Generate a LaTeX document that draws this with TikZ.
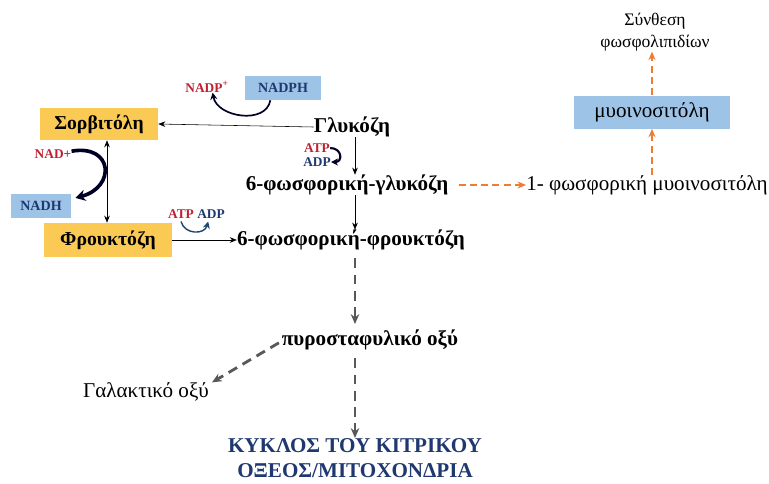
\documentclass[tikz,border=0pt]{standalone}
\usepackage{fontspec}
\setmainfont{Liberation Serif}
\usepackage{tikz}
\usetikzlibrary{arrows.meta, positioning, calc}
\usepackage{xcolor}
\definecolor{sugaryellow}{RGB}{250,202,84}
\definecolor{cofactorblue}{RGB}{157,195,230}
\definecolor{accentred}{RGB}{192,32,48}
\definecolor{accentnavy}{RGB}{31,56,112}
\definecolor{dashorange}{RGB}{237,125,49}
\definecolor{dashgrey}{RGB}{88,88,88}
\tikzset{
  basebox/.style={rectangle, inner sep=0pt, align=center},
  sugarbox/.style={basebox, fill=sugaryellow, font=\fontsize{14}{16}\selectfont\bfseries},
  cofactorbox/.style={basebox, fill=cofactorblue, text=accentnavy, font=\fontsize{10}{12}\selectfont\bfseries},
  myobox/.style={basebox, fill=cofactorblue, font=\fontsize{15}{17}\selectfont},
  metab/.style={basebox, font=\fontsize{15}{17}\selectfont\bfseries},
  plainmetab/.style={basebox, font=\fontsize{15}{17}\selectfont},
  redlabel/.style={basebox, text=accentred, font=\fontsize{9.5}{11}\selectfont\bfseries},
  navylabel/.style={basebox, text=accentnavy, font=\fontsize{9.5}{11}\selectfont\bfseries},
  arrow/.style={-{Stealth[length=5pt, width=4pt]}, thin, color=black},
  dblarrow/.style={{Stealth[length=5pt, width=4pt]}-{Stealth[length=5pt, width=4pt]}, thin, color=black},
  greyarrow/.style={-{Stealth[length=7pt, width=6pt]}, line width=2pt, dash pattern=on 7pt off 4.5pt, color=dashgrey},
  orangearrow/.style={-{Stealth[length=6pt, width=5pt]}, line width=1.6pt, dash pattern=on 5pt off 3pt, color=dashorange},
  cyclearrow/.style={-{Stealth[length=5pt, width=5pt]}, line width=1.4pt, color=black!85!blue}
}
\begin{document}
\begin{tikzpicture}[x=0.025cm, y=-0.025cm]
  \useasboundingbox (0,0) rectangle (769,483);
  \coordinate (axis) at (355,0);
  \coordinate (polyolaxis) at (107,0);

  \node[plainmetab, font=\fontsize{12.5}{15}\selectfont] (synth) at (655,32) {Σύνθεση\\[1pt]φωσφολιπιδίων};
  \node[myobox, minimum width=3.875cm, minimum height=0.825cm] (myo) at (652,112) {μυοινοσιτόλη};
  \node[plainmetab] (mip) at (647,185) {1- φωσφορική μυοινοσιτόλη};

  \node[metab] (glu) at (352,127) {Γλυκόζη};
  \node[metab] (g6p) at (347,185) {6-φωσφορική-γλυκόζη};
  \node[metab] (f6p) at (351,240) {6-φωσφορική-φρουκτόζη};
  \node[metab] (pyr) at (370,340) {πυροσταφυλικό οξύ};
  \node[plainmetab] (lact) at (146,392) {Γαλακτικό οξύ};
  \node[metab, text=accentnavy] (krebs) at (355,458) {ΚΥΚΛΟΣ ΤΟΥ ΚΙΤΡΙΚΟΥ\\[1pt]ΟΞΕΟΣ/ΜΙΤΟΧΟΝΔΡΙΑ};

  \node[sugarbox, minimum width=2.95cm, minimum height=0.8cm] (sorb) at (99,124) {Σορβιτόλη};
  \node[sugarbox, minimum width=3.175cm, minimum height=0.85cm] (fruc) at (108,240) {Φρουκτόζη};

  \node[cofactorbox, minimum width=1.875cm, minimum height=0.6cm] (nadph) at (283,88) {NADPH};
  \node[redlabel] (nadp) at (207,87) {NADP\textsuperscript{+}};
  \node[cofactorbox, minimum width=1.5cm, minimum height=0.6cm] (nadh) at (41,206) {NADH};
  \node[redlabel] (nad) at (53,154) {NAD+};
  \node[redlabel] (atpglu) at (317,148) {ATP};
  \node[navylabel] (adpglu) at (317,162) {ADP};
  \node[redlabel] (atpfru) at (181,214) {ATP};
  \node[navylabel] (adpfru) at (211,214) {ADP};

  \draw[arrow] (glu.west) -- (sorb.east);
  \draw[arrow] (glu.south -| axis) -- (g6p.north -| axis);
  \draw[arrow] (g6p.south -| axis) -- (f6p.north -| axis);
  \draw[arrow] (fruc.east) -- (f6p.west);
  \draw[dblarrow] (sorb.south -| polyolaxis) -- (fruc.north -| polyolaxis);

  \draw[orangearrow] (g6p.east) ++(10,0) -- (mip.west);
  \draw[orangearrow] (mip.north -| myo) -- (myo.south);
  \draw[orangearrow] (myo.north) -- (synth.south -| myo);

  \draw[greyarrow] (f6p.south -| axis) ++(0,8) -- ([yshift=4pt]pyr.north -| axis);
  \draw[greyarrow] (pyr.south -| axis) ++(0,8) -- (krebs.north -| axis);
  \draw[greyarrow] ([xshift=-2pt, yshift=-2pt]pyr.west) -- ([xshift=2pt]lact.north east);

  \draw[cyclearrow, line width=1.2pt] ([xshift=-9]nadph.south) to[out=-100, in=-80, looseness=1.1] ([xshift=4]nadp.south);
  \draw[cyclearrow, line width=1.5pt] (atpglu.east) to[out=0, in=0, looseness=2.2] (adpglu.east);
  \draw[cyclearrow, line width=2.6pt, -{Stealth[length=7pt, width=8pt]}] ([yshift=2pt]nad.east) to[out=10, in=15, looseness=2.3] ([xshift=3pt, yshift=-3pt]nadh.north east);
  \draw[cyclearrow, line width=1pt, color=accentnavy!80!teal] ([yshift=-2pt]atpfru.south) to[out=-75, in=-105, looseness=1.3] ([xshift=-2pt, yshift=-2pt]adpfru.south);
\end{tikzpicture}
\end{document}
